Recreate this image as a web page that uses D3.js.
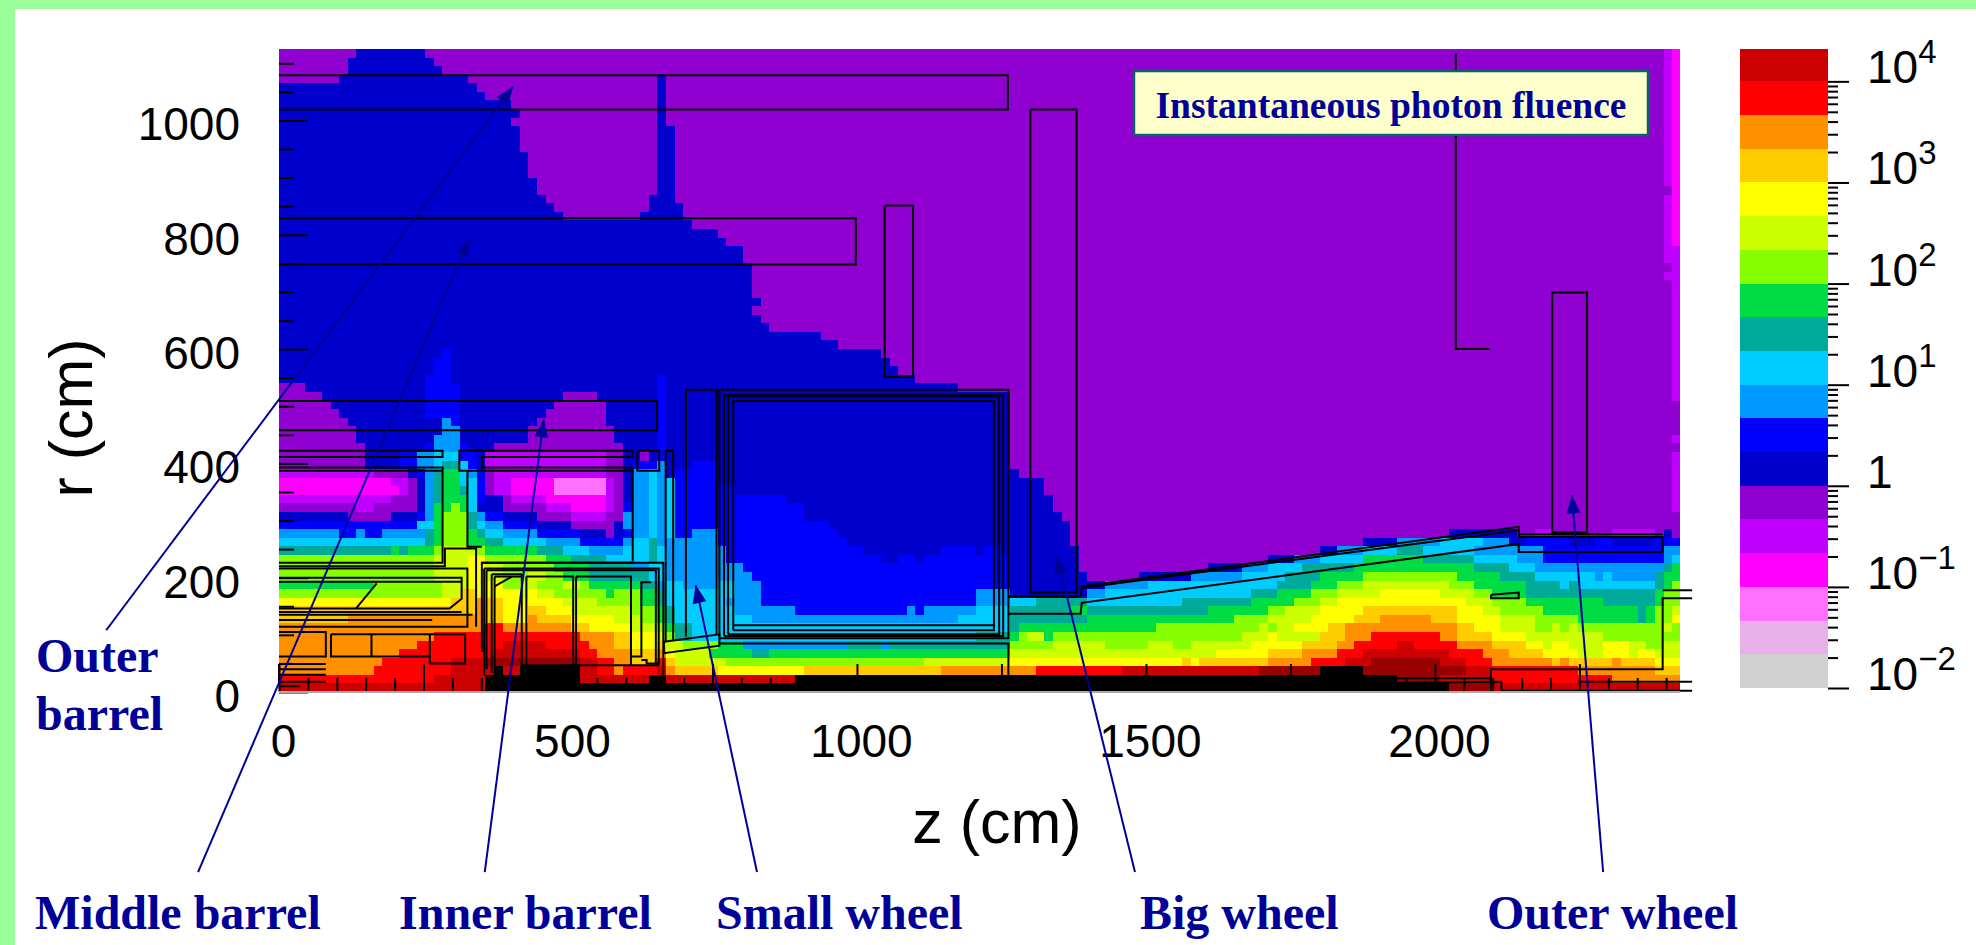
<!DOCTYPE html>
<html>
<head>
<meta charset="utf-8">
<script src="https://cdn.jsdelivr.net/npm/d3@7"></script>
<style>
  body { margin: 0; background: #fff; }
  svg { display: block; }
</style>
</head>
<body>
<script>
// Colour levels of the map, bottom of the colour bar first (3 bands per decade)
var levelKeys = ['N','I','K','M','V','P','D','B','S','C','T','G','L','H','Y','A','O','R','E'];
var levelColors = ['#d0d0d0','#e8b0e8','#ff70ff','#ff00ff','#c000ff','#9000d0','#0000cc','#0000ff','#0099ff','#00ccff','#00aa99','#00dd44','#88ff00','#ccff00','#ffff00','#ffcc00','#ff9000','#ff0000','#cc0000'];
// Off-scale colours that only show in the map
var overKeys = ['F','X'];
var overColors = ['#990000','#000000'];

// Map rows, top row first. Each token is level + end column (last one runs to the edge)
var mapRows = [
"P9 D17 P161 V162 M","P8 D18 P161 V162 M","P8 D19 P161 V162 M","P7 D22 P44 D45 P161 V162 M",
"D23 P44 D45 P161 V162 M","D24 P44 D45 P161 V162 M","D27 P44 D45 P161 V162 M","D28 P44 D45 P161 V162 M",
"D27 P44 D45 P161 V162 M","D28 P44 D46 P161 V162 M","D28 P44 D46 P161 V162 M","D28 P44 D46 P161 V162 M",
"D29 P44 D46 P161 V162 M","D29 P44 D46 P161 V162 M","D29 P44 D46 P161 V162 M","D30 P44 D46 P161 V162 M",
"D30 P44 D46 P162 M","D31 P43 D46 P161 V162 M","D32 P43 D47 P161 V162 M","D33 P42 D47 P161 V162 M",
"D48 P161 V162 M","D51 P161 V162 M","D52 P161 V162 M","D54 P161 V","D54 P161 V","D55 P162 V","D55 P161 V",
"D55 P162 V","D55 P162 V","D56 P162 V","D55 P162 V","D56 P162 V","D57 P162 V","D63 P162 V","D65 P162 V",
"D19 B20 D70 P162 V","D18 B20 D71 P162 V","D18 B20 D72 P162 V","D17 B20 D44 B45 D74 P162 V",
"P3 D17 B21 D44 B45 D79 P162 V",
"P5 D17 B21 D33 P37 D44 B45 D85 P162 V",
"P6 D17 B21 D32 P38 D44 B45 D85 P",
"P7 D17 B21 D31 P38 D44 B45 D85 P",
"P8 D19 S20 B21 D30 P38 D44 B45 D85 P",
"P9 D19 S21 D29 P39 D44 B45 D85 P",
"P9 D18 S21 D29 P39 D44 B45 D85 P162 V",
"P10 D17 B18 S21 B22 D25 P40 D44 B45 D85 P",
"P10 D14 B16 S18 C21 B23 D24 V38 P40 D42 P43 D44 B45 D85 P162 V",
"P10 D14 B16 S18 C19 T21 C22 B23 D24 V38 P40 D41 B44 S45 D48 B51 D85 P162 V",
"V11 P15 D16 B17 S18 T19 G21 C22 S23 B24 P25 V38 P40 D41 S43 C44 S45 D46 B51 D86 P162 V",
"M13 V15 P16 D17 S18 T19 G21 C23 B24 P25 V27 M32 K38 V39 P40 D41 S43 C44 S45 C46 B51 D89 P162 V",
"M14 V15 P16 D17 S18 T19 G21 T22 C23 B24 P25 V27 M32 K38 V39 P40 D41 S43 C44 S45 C46 B53 D89 P162 V",
"V13 P16 D17 S18 T19 G22 C23 B24 D26 P27 V31 M38 V39 P40 D41 S43 C44 S45 C46 B59 D90 P162 V",
"P9 V11 P16 D17 S18 G20 L21 G22 C23 D26 P31 V34 M38 V39 P40 B41 S43 C44 S45 C46 B61 D90 P162 V",
"D8 P13 D16 B17 S18 G19 L22 T23 S24 B26 D30 P34 V38 P40 S43 C44 S45 C46 B61 D91 P",
"B16 C18 G19 L22 T23 C24 S26 B30 D34 P39 D40 S43 C44 S45 C46 B64 D92 P",
"S7 B9 S10 B12 S17 T18 G19 L22 G23 T24 C26 S30 B35 D38 P39 D40 B41 S43 C44 S45 C46 B48 S51 B65 D92 P136 D144 P146 V148 P155 V160 P161 D162 P",
"C17 T18 G19 L22 G24 T26 C31 S35 B40 S41 C43 T44 S51 B66 D92 P126 D130 S135 C140 S143 D145 B150 D153 B155 D160 B",
"T13 G14 T15 G18 L19 H23 L24 G30 T33 C36 S40 C43 T44 C45 S52 B68 D77 B81 D82 B84 D93 P121 D123 S126 C130 T133 C139 S147 B161 S",
"L18 H22 Y24 L31 G34 T38 C43 T44 C45 S52 B70 D72 B74 D75 B85 D93 P115 D118 S121 C126 G133 T139 C144 S147 B161 S162 C",
"L18 H22 Y24 H26 L32 G36 T41 S43 C45 S54 B85 D93 P108 D112 S115 C119 T125 G139 T143 C146 S161 T162 G",
"L18 H22 Y24 H26 L29 H31 L33 G36 T43 C45 S55 B85 D94 P100 D106 S112 C117 T121 G126 L137 G142 T146 C153 S154 C155 S160 T161 G",
"G11 L19 H22 Y26 L28 H30 L33 H35 L36 G42 T44 S45 C47 S51 C53 S56 B85 D96 S101 C116 T120 G123 L126 H136 L139 G145 T149 C150 T151 C160 T161 G162 L",
"L19 H21 A23 Y28 H29 Y30 H32 L38 G39 L42 G44 T45 C53 S56 B81 S85 D94 S96 C113 T116 G120 L123 H128 Y135 H139 L141 G145 T160 G161 L",
"Y20 A23 O24 A26 Y33 H37 L42 G44 T45 C52 S56 B81 S85 C88 T94 C105 T113 G118 L121 H123 Y138 H141 L145 G154 T160 G161 L",
"A23 O24 A26 Y29 A31 Y34 H41 L44 G45 T46 C53 S60 B73 S74 B75 S81 C85 T92 G94 T108 G115 L117 H121 Y126 A137 Y140 H142 L147 G158 T159 G160 L162 H",
"A8 O24 A26 Y29 O30 A34 Y39 H42 L44 G45 T46 C55 S79 C85 T94 G111 L115 H120 Y125 A128 O134 A137 Y142 H146 L151 G158 T159 G160 L162 Y",
"O24 R26 O34 A36 Y41 H44 L45 G46 T48 C85 T86 G102 L114 H115 L116 H118 Y122 A124 O137 A139 Y142 H146 L148 H149 L150 H151 L161 H162 L",
"O18 R35 O39 A41 Y44 H45 L46 T48 C81 T85 G86 L87 H89 G90 L112 H115 Y116 H121 A124 O127 R135 O137 A141 Y145 H154 L",
"O16 R26 E31 R36 O39 A41 Y44 A45 H47 L51 G54 S66 T70 S71 T85 L90 H96 L101 H104 L106 H113 Y119 A123 O125 R130 E132 R137 O141 A145 Y147 H148 Y150 H154 Y157 H159 L161 H",
"O14 R25 E35 R37 O41 A44 O45 Y46 H50 G55 T57 G85 H109 Y115 A119 O123 R126 E136 R140 O143 A147 Y151 H154 Y157 H158 Y160 H",
"O12 R20 E24 F35 E37 R39 O41 A44 R45 A46 H52 L75 H85 Y105 A106 Y107 A115 O120 R124 E127 F135 E138 R141 O148 A149 O150 A155 O156 A160 Y",
"O11 R20 E25 X26 E28 X35 E37 R39 O40 R44 E45 O46 A51 Y61 A77 O88 R98 E114 F121 X126 F138 E141 R151 O160 A",
"R18 E24 X35 E43 X45 E60 X130 F135 E141 R155 O",
"E24 X136 F141 E"
];

// Bin size of the map in cm
var binZ = 14.88;
var binR = 15;

// Detector outlines as z, r points in cm
var detectorLines = [
  [[0,1079],[1261,1079],[1261,1019],[0,1019]],
  [[0,829],[998,829],[998,748],[0,748]],
  [[0,509],[654,509],[654,458],[0,458]],
  [[0,422],[283,422],[283,411],[0,411]],
  [[0,393],[283,393],[283,226],[0,226]],
  [[0,387],[283,387]],
  [[0,220],[287,220],[287,251],[341,251],[341,114]],
  [[351,254],[326,254],[326,387]],
  [[612,411],[351,411],[351,393],[612,393]],
  [[612,411],[612,422],[312,422],[312,387],[612,387]],
  [[612,393],[612,226],[351,226],[351,70]],
  [[620,422],[658,422],[658,387],[620,387],[620,422]],
  [[0,216],[326,216],[326,114],[0,114]],
  [[0,200],[316,200],[316,163],[295,146],[0,146]],
  [[0,193],[316,193]],
  [[0,140],[316,140]],
  [[0,135],[335,135]],
  [[0,126],[265,126]],
  [[169,190],[133,146]],
  [[0,105],[81,105],[81,62],[0,62]],
  [[90,101],[322,101],[322,50],[261,50],[261,62],[90,62],[90,101]],
  [[160,101],[160,62]],
  [[261,101],[261,62]],
  [[0,49],[81,49]],[[0,40],[81,40]],[[0,30],[81,30]],[[0,18],[81,18]],[[0,10],[36,10]],[[0,49],[0,10]],
  [[351,226],[665,226],[665,14]],
  [[355,216],[657,216],[657,47]],
  [[359,213],[652,213],[652,47]],
  [[359,213],[359,40]],[[355,216],[355,30]],
  [[368,206],[368,33]],[[373,202],[373,33]],
  [[368,206],[420,206],[420,33]],[[373,202],[420,202]],
  [[373,185],[403,202]],
  [[428,202],[509,202],[509,47]],[[428,202],[428,47]],
  [[514,202],[609,202],[609,47]],[[514,202],[514,47]],
  [[644,192],[627,192],[627,62],[609,62]],
  [[627,56],[636,56],[636,50],[657,50]],
  [[420,47],[657,47]],
  [[666,88],[762,101],[762,81],[666,68],[666,88]],
  [[669,88],[669,422],[682,422],[682,90]],
  [[704,97],[704,529],[757,529],[757,101]],
  [[762,94],[762,529],[1262,529],[1262,94],[762,94]],
  [[770,98],[770,519],[1253,519],[1253,98],[770,98]],
  [[777,101],[777,517],[1246,517],[1246,101],[777,101]],
  [[786,108],[786,509],[1237,509],[1237,108],[786,108]],
  [[786,117],[1237,117]],
  [[762,85],[1262,85],[1262,28]],
  [[1262,137],[1387,137],[1389,156],[2145,259],[2145,245],[2394,245]],
  [[1262,167],[1387,167],[1389,185],[2145,289],[2145,271],[2394,271],[2394,245]],
  [[1389,182],[2145,283]],
  [[2145,276],[2394,276]],
  [[1300,1019],[1300,174],[1380,174],[1380,1019],[1300,1019]],
  [[1048,851],[1048,551],[1097,551],[1097,851],[1048,851]],
  [[2203,699],[2203,279],[2263,279],[2263,699],[2203,699]],
  [[2036,1117],[2036,600],[2095,600]],
  [[2097,170],[2145,174],[2145,164],[2097,164],[2097,170]],
  [[2394,178],[2445,178]],
  [[2445,164],[2394,164],[2394,40],[2097,40],[2097,2]],
  [[1930,24],[2097,24]],
  [[1930,16],[2115,18],[2115,2]],
  [[2248,18],[2445,18]],
  [[2115,2],[2445,2]]
];

// Callouts: name, text lines, tail and tip of the arrow in cm
var calloutTails = [[-299,108],[-140,-315],[356,-315],[827,-315],[1481,-315],[2291,-315]];
var calloutTips = [[405,1059],[329,794],[458,477],[721,187],[1346,238],[2237,344]];
var calloutNames = ['Middle barrel','Inner barrel','Small wheel','Big wheel','Outer wheel'];
var calloutNameX = [35,399,716,1140,1487];

var xTicks = [0,500,1000,1500,2000];
var yTicks = [0,200,400,600,800,1000];
var barExponents = [-2,-1,0,1,2,3,4];

var width = 1976, height = 945;

var svg = d3.select('body').append('svg')
  .attr('width', width)
  .attr('height', height);

// Green frame on the left and top
svg.append('rect').attr('width', 15).attr('height', height).attr('fill', '#99ff99');
svg.append('rect').attr('width', width).attr('height', 9).attr('fill', '#99ff99');

var x = d3.scaleLinear().domain([0, 2424]).range([279, 1680]);
var y = d3.scaleLinear().domain([0, 1125]).range([692, 49]);

var colorOf = d3.scaleOrdinal()
  .domain(levelKeys.concat(overKeys))
  .range(levelColors.concat(overColors));

// Turn the row strings into one run per token
var runs = [];
mapRows.forEach(function(row, t) {
  var start = 0;
  row.split(' ').forEach(function(token) {
    var end = token.length > 1 ? +token.slice(1) : 163;
    runs.push({ key: token[0], t: t, c0: start, c1: end });
    start = end;
  });
});

var plot = svg.append('g');

plot.selectAll('rect').data(runs).enter()
  .append('rect')
  .attr('x', function(d) { return x(d.c0 * binZ); })
  .attr('width', function(d) { return x(Math.min(d.c1 * binZ, 2424)) - x(d.c0 * binZ); })
  .attr('y', function(d) { return y((mapRows.length - d.t) * binR); })
  .attr('height', function(d) { return y(0) - y(binR); })
  .attr('fill', function(d) { return colorOf(d.key); })
  .attr('shape-rendering', 'crispEdges');

// Detector outlines
var outline = d3.line()
  .x(function(d) { return x(d[0]); })
  .y(function(d) { return y(d[1]); });

svg.append('g').selectAll('path').data(detectorLines).enter()
  .append('path')
  .attr('d', outline)
  .attr('fill', 'none')
  .attr('stroke', '#000')
  .attr('stroke-width', 2);

// Axes sit inside the plot, the ticks point inwards
function styleAxis(g) {
  g.select('.domain').remove();
  g.selectAll('line').attr('stroke', '#000').attr('stroke-width', 2);
  g.selectAll('text')
    .attr('font-family', '"Liberation Sans", Arial, sans-serif')
    .attr('font-size', 46)
    .attr('fill', '#000');
}

var minorZ = d3.range(0, 2401, 50).filter(function(d) { return d % 250 !== 0; });
var minorR = d3.range(0, 1101, 50).filter(function(d) { return d % 200 !== 0; });

svg.append('g').attr('transform', 'translate(0,692)')
  .call(d3.axisBottom(x).tickValues(minorZ).tickSize(-14).tickFormat(''))
  .call(styleAxis);

svg.append('g').attr('transform', 'translate(0,692)')
  .call(d3.axisBottom(x).tickValues(d3.range(0, 2401, 250)).tickSize(-28).tickFormat(''))
  .call(styleAxis);

svg.append('g').attr('transform', 'translate(279,0)')
  .call(d3.axisLeft(y).tickValues(minorR).tickSize(-15).tickFormat(''))
  .call(styleAxis);

svg.append('g').attr('transform', 'translate(279,0)')
  .call(d3.axisLeft(y).tickValues(yTicks).tickSize(-29).tickFormat(d3.format('d')).tickPadding(39))
  .call(styleAxis)
  .selectAll('text').attr('dy', '0.42em');

svg.append('g').attr('transform', 'translate(0,692)')
  .call(d3.axisBottom(x).tickValues(xTicks).tickSize(0).tickFormat(d3.format('d')).tickPadding(32))
  .call(styleAxis)
  .selectAll('text').attr('dx', 4);

// Bottom edge of the plot
svg.append('line')
  .attr('x1', 279).attr('x2', 1680)
  .attr('y1', 692).attr('y2', 692)
  .attr('stroke', '#aaa').attr('stroke-width', 2);

svg.append('text')
  .attr('x', 997).attr('y', 843)
  .attr('text-anchor', 'middle')
  .attr('font-family', '"Liberation Sans", Arial, sans-serif')
  .attr('font-size', 61)
  .text('z (cm)');

svg.append('text')
  .attr('transform', 'translate(92,418) rotate(-90)')
  .attr('text-anchor', 'middle')
  .attr('font-family', '"Liberation Sans", Arial, sans-serif')
  .attr('font-size', 61)
  .text('r (cm)');

// Colour bar on a log scale
var barScale = d3.scaleLog().domain([0.01, Math.pow(10, 4.32)]).range([688, 49]);
var barX = 1740, barW = 88;

var bands = levelColors.map(function(c, i) {
  return {
    color: c,
    low: Math.pow(10, -2 + i / 3),
    high: Math.min(Math.pow(10, -2 + (i + 1) / 3), barScale.domain()[1])
  };
});

svg.append('g').selectAll('rect').data(bands).enter()
  .append('rect')
  .attr('x', barX)
  .attr('width', barW)
  .attr('y', function(d) { return barScale(d.high); })
  .attr('height', function(d) { return barScale(d.low) - barScale(d.high); })
  .attr('fill', function(d) { return d.color; })
  .attr('shape-rendering', 'crispEdges');

var barMinor = [];
barExponents.slice(0, 6).forEach(function(e) {
  d3.range(2, 10).forEach(function(m) { barMinor.push(m * Math.pow(10, e)); });
});

svg.append('g').attr('transform', 'translate(' + (barX + barW) + ',0)')
  .call(d3.axisRight(barScale).tickValues(barMinor).tickSize(10).tickFormat(''))
  .call(styleAxis);

svg.append('g').attr('transform', 'translate(' + (barX + barW) + ',0)')
  .call(d3.axisRight(barScale).tickValues(barExponents.map(function(e) { return Math.pow(10, e); })).tickSize(21).tickFormat(''))
  .call(styleAxis);

var barLabels = svg.append('g').selectAll('text').data(barExponents).enter()
  .append('text')
  .attr('x', 1867)
  .attr('y', function(e) { return barScale(Math.pow(10, e)) + 2; })
  .attr('font-family', '"Liberation Sans", Arial, sans-serif')
  .attr('font-size', 46)
  .attr('fill', '#000');

barLabels.append('tspan')
  .text(function(e) { return e === 0 ? '1' : '10'; });

barLabels.filter(function(e) { return e !== 0; })
  .append('tspan')
  .attr('dy', -20)
  .attr('font-size', 33)
  .text(function(e) { return e < 0 ? '\u2212' + (-e) : e; });

// Title box
svg.append('rect')
  .attr('x', 1134).attr('y', 71)
  .attr('width', 514).attr('height', 64)
  .attr('fill', '#ffffcc')
  .attr('stroke', '#006666')
  .attr('stroke-width', 2.5);

svg.append('text')
  .attr('x', 1391).attr('y', 118)
  .attr('text-anchor', 'middle')
  .attr('font-family', '"Liberation Serif", "Times New Roman", serif')
  .attr('font-weight', 'bold')
  .attr('font-size', 37.5)
  .attr('fill', '#000099')
  .text('Instantaneous photon fluence');

// Callout arrows
var arrows = calloutTails.map(function(tail, i) { return { tail: tail, tip: calloutTips[i] }; });

var arrowG = svg.append('g').selectAll('g').data(arrows).enter().append('g');

arrowG.append('line')
  .attr('x1', function(d) { return x(d.tail[0]); })
  .attr('y1', function(d) { return y(d.tail[1]); })
  .attr('x2', function(d) { return x(d.tip[0]); })
  .attr('y2', function(d) { return y(d.tip[1]); })
  .attr('stroke', '#000099')
  .attr('stroke-width', 2);

arrowG.append('path')
  .attr('d', function(d) {
    var tx = x(d.tip[0]), ty = y(d.tip[1]);
    var a = Math.atan2(y(d.tail[1]) - ty, x(d.tail[0]) - tx);
    var len = 18, half = 7;
    var bx = tx + len * Math.cos(a), by = ty + len * Math.sin(a);
    var nx = -Math.sin(a) * half, ny = Math.cos(a) * half;
    return 'M' + tx + ',' + ty + 'L' + (bx + nx) + ',' + (by + ny) + 'L' + (bx - nx) + ',' + (by - ny) + 'Z';
  })
  .attr('fill', '#000099');

// Callout labels
var labelFont = '"Liberation Serif", "Times New Roman", serif';

svg.append('g').selectAll('text').data(calloutNames).enter()
  .append('text')
  .attr('x', function(d, i) { return calloutNameX[i]; })
  .attr('y', 929)
  .attr('font-family', labelFont)
  .attr('font-weight', 'bold')
  .attr('font-size', 48)
  .attr('fill', '#000099')
  .text(function(d) { return d; });

svg.append('g').selectAll('text').data(['Outer', 'barrel']).enter()
  .append('text')
  .attr('x', 36)
  .attr('y', function(d, i) { return 672 + i * 58; })
  .attr('font-family', labelFont)
  .attr('font-weight', 'bold')
  .attr('font-size', 48)
  .attr('fill', '#000099')
  .text(function(d) { return d; });
</script>
</body>
</html>
